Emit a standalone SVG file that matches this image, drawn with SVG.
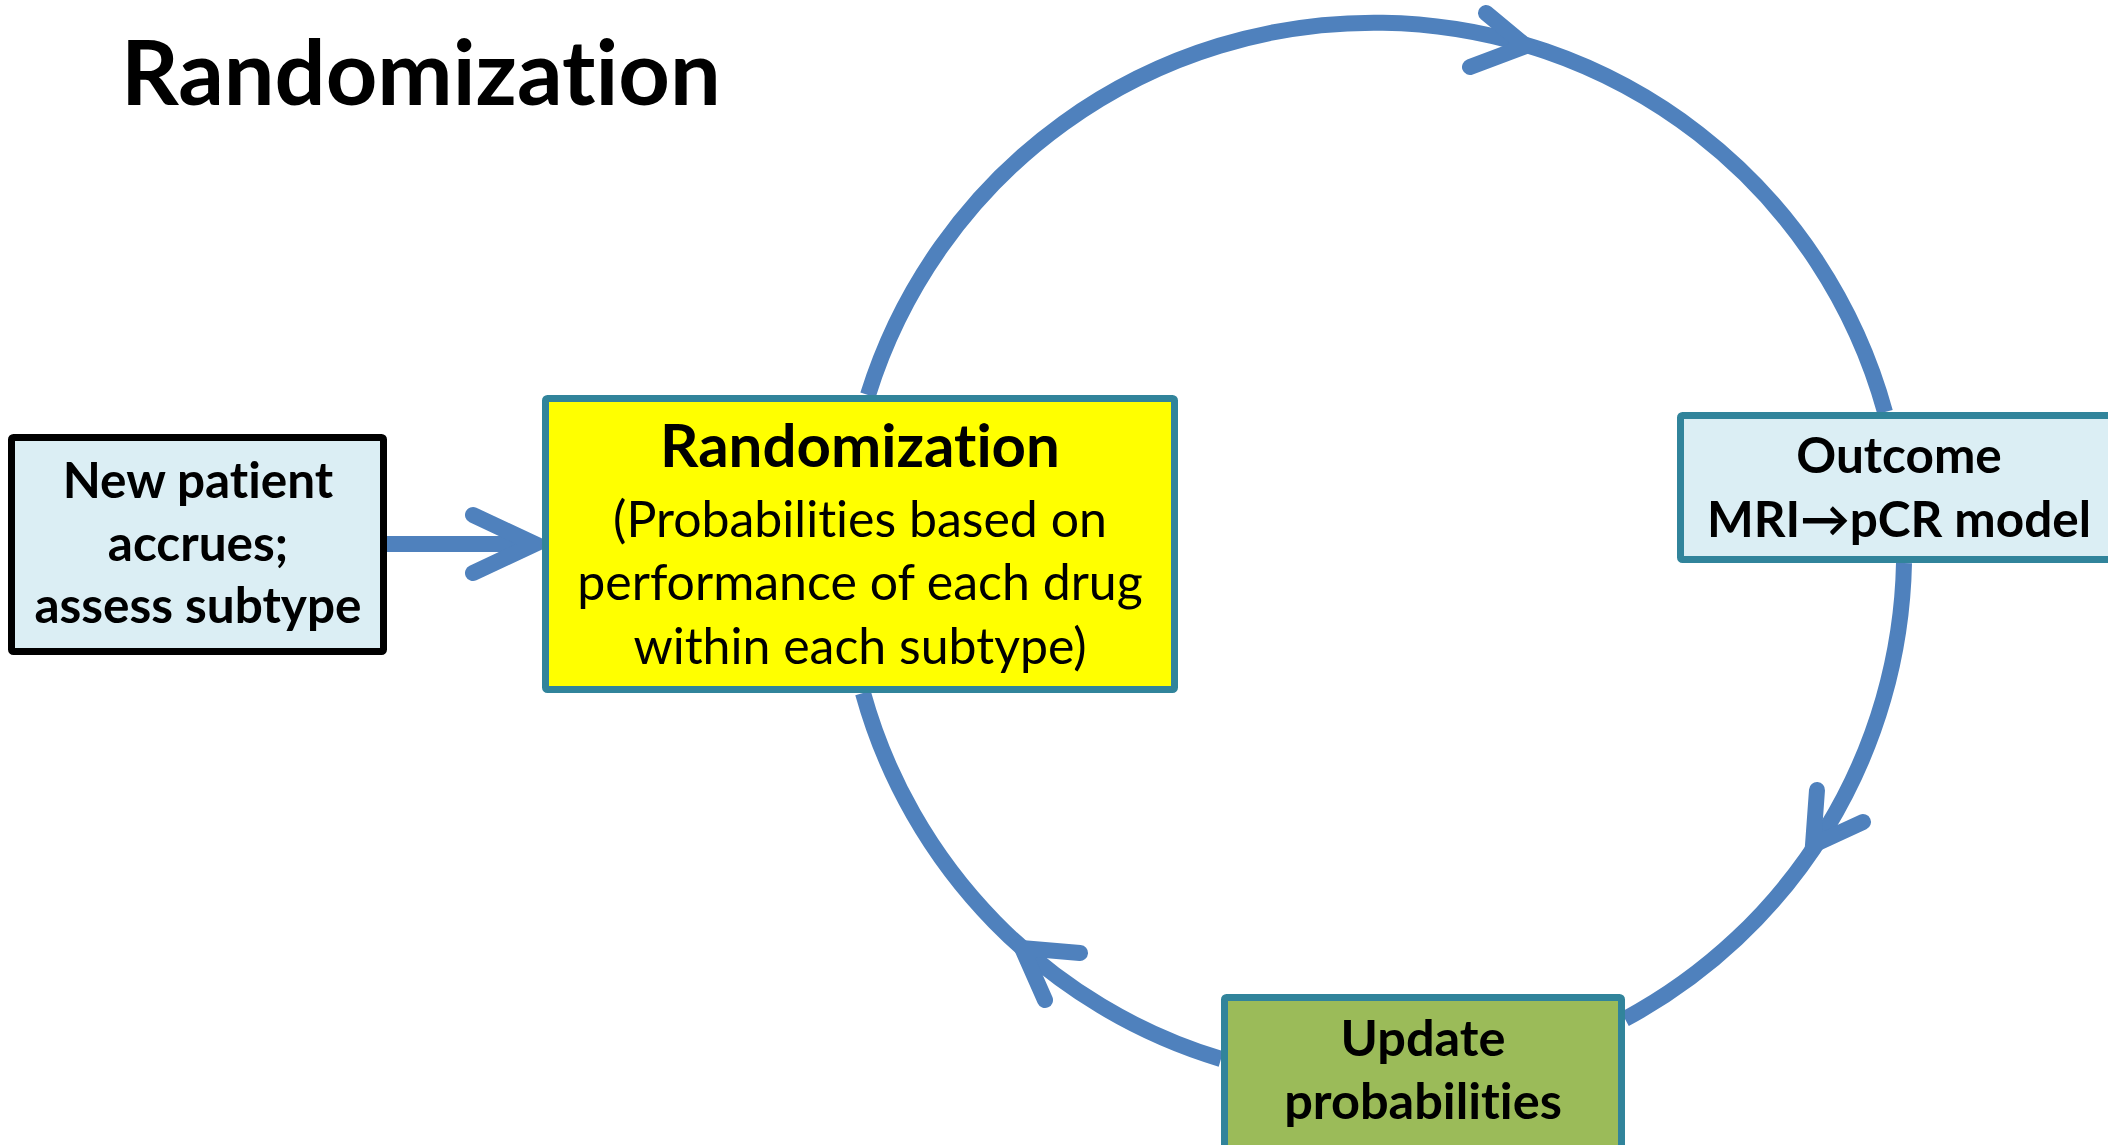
<svg xmlns="http://www.w3.org/2000/svg" width="2108" height="1145" viewBox="0 0 2108 1145">
<style>
.bg{fill:#ffffff}
.conn{fill:none;stroke:#4F81BD;stroke-width:16}
.head{fill:none;stroke:#4F81BD;stroke-width:16;stroke-linecap:round;stroke-linejoin:miter}
.box{stroke:#31849B;stroke-width:7}
text{font-variant-ligatures:none;font-feature-settings:"liga" 0}
.lb{font-family:Lato,"Open Sans","Liberation Sans",sans-serif;font-weight:700;fill:#000;text-anchor:middle}
.lr{font-family:Lato,"Open Sans","Liberation Sans",sans-serif;font-weight:400;fill:#000;text-anchor:middle}
</style>
<rect class="bg" x="0" y="0" width="2108" height="1145"/>
<g id="title">
<text x="121" y="105" style="font-family:Lato,'Open Sans','Liberation Sans',sans-serif;font-weight:700;font-size:90px;fill:#000">Randomization</text>
</g>
<g id="connectors">
<path class="conn" d="M868,395 A530,530 0 0 1 1885,412"/>
<path class="conn" d="M1904,563 A530,530 0 0 1 1625,1019"/>
<path class="conn" d="M1221,1059 A530,530 0 0 1 863,693"/>
<path class="conn" d="M387,544 L528,544"/>
<path class="head" d="M473,515 L535,544 L473,573"/>
<path class="head" d="M1486,13 L1526,46 L1470,67"/>
<path class="head" d="M1817,790 L1813,845 L1863,822"/>
<path class="head" d="M1080,953 L1022,948 L1045,1000"/>
</g>
<g id="new-patient">
<rect x="11.5" y="437.5" width="372" height="214" fill="#DBEEF4" stroke="#000" stroke-width="7" rx="2"/>
<text class="lb" x="198" y="498" font-size="49.5">New patient</text>
<text class="lb" x="198" y="561" font-size="49.5">accrues;</text>
<text class="lb" x="198" y="623" font-size="49.5">assess subtype</text>
</g>
<g id="randomization">
<rect class="box" x="545.5" y="398.5" width="629" height="291" fill="#FFFF00" rx="2"/>
<text class="lb" x="860" y="467" font-size="60">Randomization</text>
<text class="lr" x="860" y="537" font-size="50">(Probabilities based on</text>
<text class="lr" x="860" y="600" font-size="50">performance of each drug</text>
<text class="lr" x="860" y="664" font-size="50">within each subtype)</text>
</g>
<g id="outcome">
<rect class="box" x="1680.5" y="415.5" width="440" height="144" fill="#DBEEF4" rx="2"/>
<text class="lb" x="1899" y="473" font-size="49.5">Outcome</text>
<text class="lb" x="1899" y="537" font-size="49.5">MRI→pCR model</text>
</g>
<g id="update">
<rect class="box" x="1224.5" y="997.5" width="397" height="170" fill="#9BBB59" rx="2"/>
<text class="lb" x="1423" y="1056" font-size="50.5">Update</text>
<text class="lb" x="1423" y="1119" font-size="50.5">probabilities</text>
</g>
</svg>
